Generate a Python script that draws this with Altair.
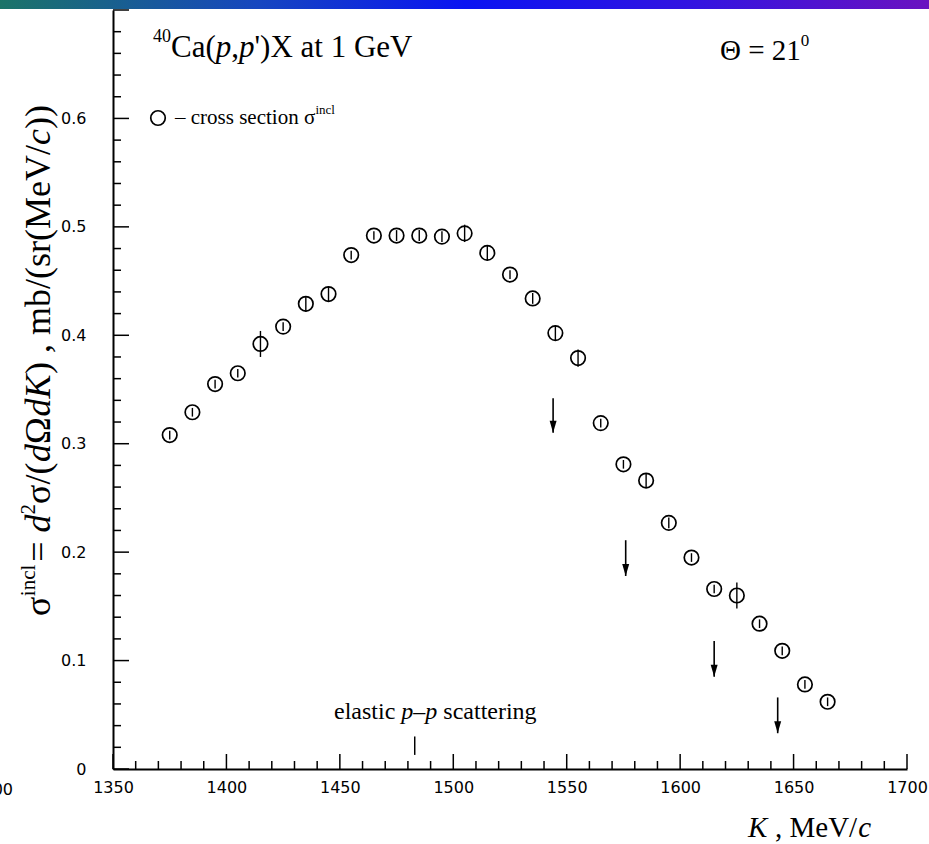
import altair as alt
import pandas as pd

# Inclusive cross section for 40Ca(p,p')X at 1 GeV, Theta = 21 deg
K = [1375, 1385, 1395, 1405, 1415, 1425, 1435, 1445, 1455, 1465,
     1475, 1485, 1495, 1505, 1515, 1525, 1535, 1545, 1555, 1565,
     1575, 1585, 1595, 1605, 1615, 1625, 1635, 1645, 1655, 1665]
sigma = [0.308, 0.329, 0.355, 0.365, 0.392, 0.408, 0.429, 0.438, 0.474, 0.492,
         0.492, 0.492, 0.491, 0.494, 0.476, 0.456, 0.434, 0.402, 0.379, 0.319,
         0.281, 0.266, 0.227, 0.195, 0.166, 0.160, 0.134, 0.109, 0.078, 0.062]
sigma_err = [0.004, 0.004, 0.004, 0.004, 0.012, 0.004, 0.007, 0.007, 0.004, 0.004,
             0.005, 0.005, 0.005, 0.008, 0.007, 0.004, 0.005, 0.007, 0.008, 0.004,
             0.004, 0.006, 0.005, 0.004, 0.004, 0.012, 0.004, 0.004, 0.004, 0.004]

# Downward arrows (upper limits)
arrow_K = [1544, 1576, 1615, 1643]
arrow_top = [0.342, 0.211, 0.118, 0.066]
arrow_tip = [0.310, 0.178, 0.085, 0.033]

# Elastic p-p scattering position
elastic_K = [1483]
elastic_lo = [0.013]
elastic_hi = [0.030]

# Axis ticks
x_major = list(range(1350, 1701, 50))
x_minor = [k for k in range(1360, 1700, 10) if k % 50]
y_major = [round(0.1 * i, 2) for i in range(0, 8)]
y_minor = [round(0.02 * i, 2) for i in range(1, 35) if i % 5]
y_labels = [round(0.1 * i, 2) for i in range(0, 7)]

W, H = 794, 759
SERIF = "Liberation Serif"
SANS = "DejaVu Sans"

# Times advance widths (em) used to place mixed-style text runs
TIMES = {" ": .25, "(": .333, ")": .333, ",": .25, "/": .278, "=": .564,
         "'": .18, "–": .5, "0": .5, "1": .5, "2": .5, "4": .5, "C": .667,
         "G": .722, "K": .68, "M": .889, "V": .722, "X": .722, "a": .444, "b": .5,
         "c": .444, "d": .5, "e": .444, "g": .5, "i": .278, "l": .278, "m": .778,
         "n": .5, "o": .5, "p": .5, "r": .333, "s": .389, "t": .278, "σ": .55,
         "Ω": .77, "Θ": .72}

xs = alt.Scale(domain=[1350, 1700], nice=False, zero=False)
ys = alt.Scale(domain=[0, 0.7], nice=False, zero=False)

xaxis = alt.Axis(title="", values=x_major, ticks=False, tickSize=0, grid=False,
                 domainColor="black", domainWidth=2, labelFont=SANS,
                 labelFontSize=16, labelColor="black", labelPadding=10,
                 labelFlush=False, labelOverlap=False, format="d")
yaxis = alt.Axis(title="", values=y_labels, ticks=False, tickSize=0, grid=False,
                 domainColor="black", domainWidth=2, labelFont=SANS,
                 labelFontSize=16, labelColor="black", labelPadding=27,
                 labelOverlap=False,
                 labelExpr="datum.value == 0 ? '0' : format(datum.value, '.1f')")


def X(field):
    return alt.X(field, type="quantitative", scale=xs, axis=xaxis)


def Y(field):
    return alt.Y(field, type="quantitative", scale=ys, axis=yaxis)


pts = pd.DataFrame({"K": K, "v": sigma,
                    "lo": [s - e for s, e in zip(sigma, sigma_err)],
                    "hi": [s + e for s, e in zip(sigma, sigma_err)]})
arr = pd.DataFrame({"K": arrow_K, "v": arrow_top, "tip": arrow_tip})
ela = pd.DataFrame({"K": elastic_K, "v": elastic_lo, "hi": elastic_hi})
ONE = pd.DataFrame({"a": [0]})

layers = []

# inward tick marks
layers.append(alt.Chart(pd.DataFrame({"v": y_major})).mark_rule(color="black", strokeWidth=1.5)
              .encode(y=Y("v"), x=alt.value(0), x2=alt.value(16)))
layers.append(alt.Chart(pd.DataFrame({"v": y_minor})).mark_rule(color="black", strokeWidth=1.5)
              .encode(y=Y("v"), x=alt.value(0), x2=alt.value(8)))
layers.append(alt.Chart(pd.DataFrame({"K": x_major})).mark_rule(color="black", strokeWidth=1.5)
              .encode(x=X("K"), y=alt.value(H), y2=alt.value(H - 15)))
layers.append(alt.Chart(pd.DataFrame({"K": x_minor})).mark_rule(color="black", strokeWidth=1.5)
              .encode(x=X("K"), y=alt.value(H), y2=alt.value(H - 8)))

# data points with error bars
layers.append(alt.Chart(pts).mark_rule(color="black", strokeWidth=1.4)
              .encode(x=X("K"), y=Y("lo"), y2="hi"))
layers.append(alt.Chart(pts).mark_point(shape="circle", filled=False, size=210,
                                        color="black", strokeWidth=1.7, opacity=1)
              .encode(x=X("K"), y=Y("v")))

# arrows
layers.append(alt.Chart(arr).mark_rule(color="black", strokeWidth=1.6)
              .encode(x=X("K"), y=Y("v"), y2="tip"))
layers.append(alt.Chart(arr).mark_point(shape="M-0.58,-1L0.58,-1L0,1Z", filled=True,
                                        size=144, color="black", opacity=1, yOffset=-6)
              .encode(x=X("K"), y=Y("tip")))

# elastic p-p marker
layers.append(alt.Chart(ela).mark_rule(color="black", strokeWidth=1.5)
              .encode(x=X("K"), y=Y("v"), y2="hi"))


def text_run(pieces, x0, y0, angle=0):
    """Lay out (text, size, italic, rise[, shift]) pieces one after another.
    Edge spaces are turned into advances, since SVG drops them."""
    out = []
    pos = 0.0
    for piece in pieces:
        text, size, italic, rise = piece[:4]
        pos += piece[4] if len(piece) > 4 else 0
        lead = len(text) - len(text.lstrip(" "))
        trail = len(text) - len(text.rstrip(" "))
        core = text.strip(" ")
        pos += lead * TIMES[" "] * size
        if angle == 0:
            x, y = x0 + pos, y0 - rise
        else:
            x, y = x0 - rise, y0 - pos
        out.append(alt.Chart(ONE).mark_text(
            text=core, font=SERIF, fontSize=size,
            fontStyle="italic" if italic else "normal", align="left",
            baseline="alphabetic", angle=angle, color="black")
            .encode(x=alt.value(x), y=alt.value(y)))
        pos += sum(TIMES.get(ch, 0.5) for ch in core) * size
        pos += trail * TIMES[" "] * size
    return out


# reaction label
layers += text_run([("40", 18, False, 15), ("Ca(", 31, False, 0), ("p", 31, True, 0),
                    (",", 31, False, 0), ("p", 31, True, 0), ("')X at 1 GeV", 31, False, 0)],
                   40, 47)
layers += text_run([("Θ = 21", 29, False, 0), ("0", 17, False, 14)], 607, 50)

# legend
layers.append(alt.Chart(ONE).mark_point(shape="circle", filled=False, size=210,
                                        color="black", strokeWidth=1.7, opacity=1)
              .encode(x=alt.value(45), y=alt.value(108)))
layers += text_run([("– cross section σ", 21, False, 0), ("incl", 13, False, 10)], 62, 114)

# elastic label
layers += text_run([("elastic ", 24, False, 0), ("p", 24, True, 0), ("–", 24, False, 0),
                    ("p", 24, True, 0), (" scattering", 24, False, 0)], 221, 709)

# x title
layers += text_run([("K", 29, True, 0), (" , MeV/", 29, False, 0), ("c", 29, True, 0, 1)],
                   635, 827)

# y title
layers += text_run([("σ", 36, False, 0), ("incl", 21, False, 15), ("= ", 36, False, 0, 3),
                    ("d", 36, True, 0), ("2", 21, False, 15), ("σ/(", 36, False, 0),
                    ("d", 36, True, 0), ("Ω", 36, False, 0), ("d", 36, True, 0),
                    ("K", 36, True, 0), (") , mb/(sr(MeV/", 36, False, 0),
                    ("c", 36, True, 0), ("))", 36, False, 0)], -63, 606, angle=270)

# neighbouring panel's last label, cut by the page edge
layers.append(alt.Chart(ONE).mark_text(text="700", font=SANS, fontSize=16, align="right",
                                       baseline="middle", color="black")
              .encode(x=alt.value(-100), y=alt.value(780)))

# header band
band = alt.LinearGradient(
    gradient="linear", x1=0, x2=1, y1=0, y2=0,
    stops=[alt.GradientStop(color="#1b7468", offset=0),
           alt.GradientStop(color="#1646c0", offset=0.28),
           alt.GradientStop(color="#0a14f2", offset=0.5),
           alt.GradientStop(color="#3414e0", offset=0.75),
           alt.GradientStop(color="#6a12c0", offset=1)])
layers.append(alt.Chart(ONE).mark_rect(color=band)
              .encode(x=alt.value(-113), x2=alt.value(816), y=alt.value(-10), y2=alt.value(-1)))

chart = alt.layer(*layers).properties(
    width=W, height=H,
    padding={"left": 113, "top": 10, "right": 22, "bottom": 75},
    autosize=alt.AutoSizeParams(type="none"),
).configure_view(strokeWidth=0)

chart.save("out.html", embed_options={"renderer": "svg", "actions": False})
